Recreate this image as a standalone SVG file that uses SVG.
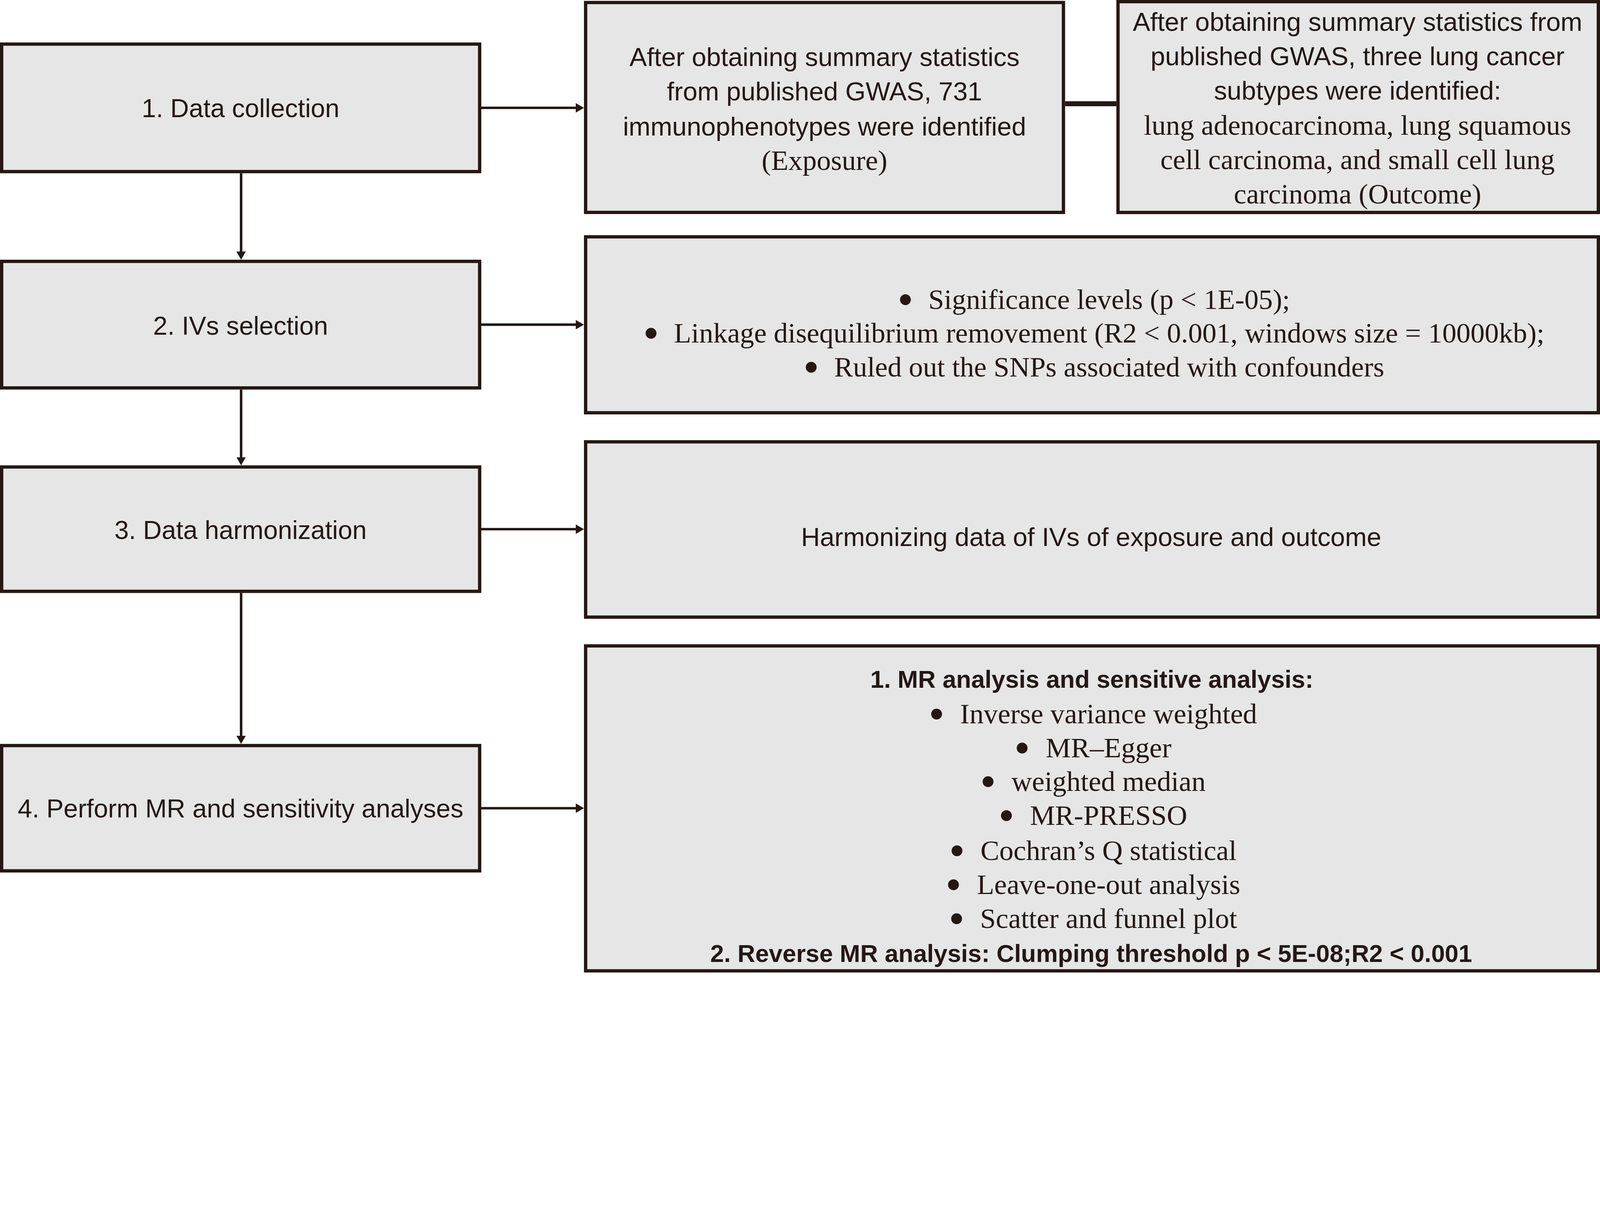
<svg xmlns="http://www.w3.org/2000/svg" width="5088" height="3093" viewBox="0 0 5088 3093" style="width:100%;height:auto;display:block">
<style>
.box{fill:#e6e6e6;stroke:#231815;stroke-width:10.5}
.ln{stroke:#231815;stroke-width:8;fill:none}
.sans{font-family:"Liberation Sans",Arial,sans-serif;font-size:83px;fill:#231815;text-anchor:middle}
.lbl{font-family:"Liberation Sans",Arial,sans-serif;font-size:82px;fill:#231815;text-anchor:middle}
.serif{font-family:"Liberation Serif","Times New Roman",serif;font-size:90px;fill:#231815;text-anchor:middle}
.bold{font-family:"Liberation Sans",Arial,sans-serif;font-size:78px;font-weight:bold;fill:#231815;text-anchor:middle}
.bul{stroke:#231815;stroke-width:13;stroke-linejoin:round}
</style>
<defs>
<marker id="ah" markerUnits="userSpaceOnUse" markerWidth="30" markerHeight="30" refX="4" refY="15" orient="auto">
<path d="M0,0 L26,15 L0,30 z" fill="#231815"/>
</marker>
</defs>
<rect width="5088" height="3093" fill="#ffffff"/>

<g id="connectors">
<line class="ln" x1="766.7" y1="551" x2="766.7" y2="804" marker-end="url(#ah)"/>
<line class="ln" x1="766.7" y1="1239" x2="766.7" y2="1458" marker-end="url(#ah)"/>
<line class="ln" x1="766.7" y1="1886" x2="766.7" y2="2344" marker-end="url(#ah)"/>
<line class="ln" x1="1530" y1="343" x2="1835" y2="343" marker-end="url(#ah)"/>
<line class="ln" x1="1530" y1="1032.5" x2="1835" y2="1032.5" marker-end="url(#ah)"/>
<line class="ln" x1="1530" y1="1683" x2="1835" y2="1683" marker-end="url(#ah)"/>
<line class="ln" x1="1530" y1="2570.5" x2="1835" y2="2570.5" marker-end="url(#ah)"/>
<line x1="3387" y1="330" x2="3550" y2="330" stroke="#231815" stroke-width="16"/>
</g>

<g id="step1">
<rect class="box" x="5.25" y="140.25" width="1520" height="405.5"/>
<text class="lbl" x="765" y="373">1. Data collection</text>
</g>
<g id="step2">
<rect class="box" x="5.25" y="831.25" width="1520" height="402.5"/>
<text class="lbl" x="765" y="1064">2. IVs selection</text>
</g>
<g id="step3">
<rect class="box" x="5.25" y="1485.25" width="1520" height="395.5"/>
<text class="lbl" x="765" y="1714">3. Data harmonization</text>
</g>
<g id="step4">
<rect class="box" x="5.25" y="2371.25" width="1520" height="398.5"/>
<text class="lbl" x="765" y="2600">4. Perform MR and sensitivity analyses</text>
</g>

<g id="exposure">
<rect class="box" x="1862.25" y="8" width="1519.5" height="667.5"/>
<text class="sans" x="2622" y="210">After obtaining summary statistics</text>
<text class="sans" x="2622" y="319">from published GWAS, 731</text>
<text class="sans" x="2622" y="431">immunophenotypes were identified</text>
<text class="serif" x="2622" y="540">(Exposure)</text>
</g>

<g id="outcome">
<rect class="box" x="3555.25" y="5.25" width="1527.5" height="670.5"/>
<text class="sans" x="4317" y="98">After obtaining summary statistics from</text>
<text class="sans" x="4317" y="208">published GWAS, three lung cancer</text>
<text class="sans" x="4317" y="317">subtypes were identified:</text>
<text class="serif" x="4317" y="428">lung adenocarcinoma, lung squamous</text>
<text class="serif" x="4317" y="538">cell carcinoma, and small cell lung</text>
<text class="serif" x="4317" y="647">carcinoma (Outcome)</text>
</g>

<g id="ivs-criteria">
<rect class="box" x="1862.25" y="753.25" width="3220.5" height="559.5"/>
<text class="serif" x="3483" y="982"><tspan class="bul">•</tspan><tspan dx="57">Significance levels (p &lt; 1E-05);</tspan></text>
<text class="serif" x="3483" y="1090"><tspan class="bul">•</tspan><tspan dx="57">Linkage disequilibrium removement (R2 &lt; 0.001, windows size = 10000kb);</tspan></text>
<text class="serif" x="3483" y="1197"><tspan class="bul">•</tspan><tspan dx="57">Ruled out the SNPs associated with confounders</tspan></text>
</g>

<g id="harmonize">
<rect class="box" x="1862.25" y="1405.25" width="3220.5" height="557.5"/>
<text class="sans" x="3470" y="1736">Harmonizing data of IVs of exposure and outcome</text>
</g>

<g id="mr-analysis">
<rect class="box" x="1862.25" y="2054.25" width="3220.5" height="1033.5"/>
<text class="bold" x="3472" y="2188">1. MR analysis and sensitive analysis:</text>
<text class="serif" x="3480" y="2300"><tspan class="bul">•</tspan><tspan dx="59">Inverse variance weighted</tspan></text>
<text class="serif" x="3480" y="2408"><tspan class="bul">•</tspan><tspan dx="59">MR–Egger</tspan></text>
<text class="serif" x="3480" y="2516"><tspan class="bul">•</tspan><tspan dx="59">weighted median</tspan></text>
<text class="serif" x="3480" y="2624"><tspan class="bul">•</tspan><tspan dx="59">MR-PRESSO</tspan></text>
<text class="serif" x="3480" y="2735"><tspan class="bul">•</tspan><tspan dx="59">Cochran’s Q statistical</tspan></text>
<text class="serif" x="3480" y="2843"><tspan class="bul">•</tspan><tspan dx="59">Leave-one-out analysis</tspan></text>
<text class="serif" x="3480" y="2951"><tspan class="bul">•</tspan><tspan dx="59">Scatter and funnel plot</tspan></text>
<text class="bold" x="3470" y="3059">2. Reverse MR analysis: Clumping threshold p &lt; 5E-08;R2 &lt; 0.001</text>
</g>
</svg>
